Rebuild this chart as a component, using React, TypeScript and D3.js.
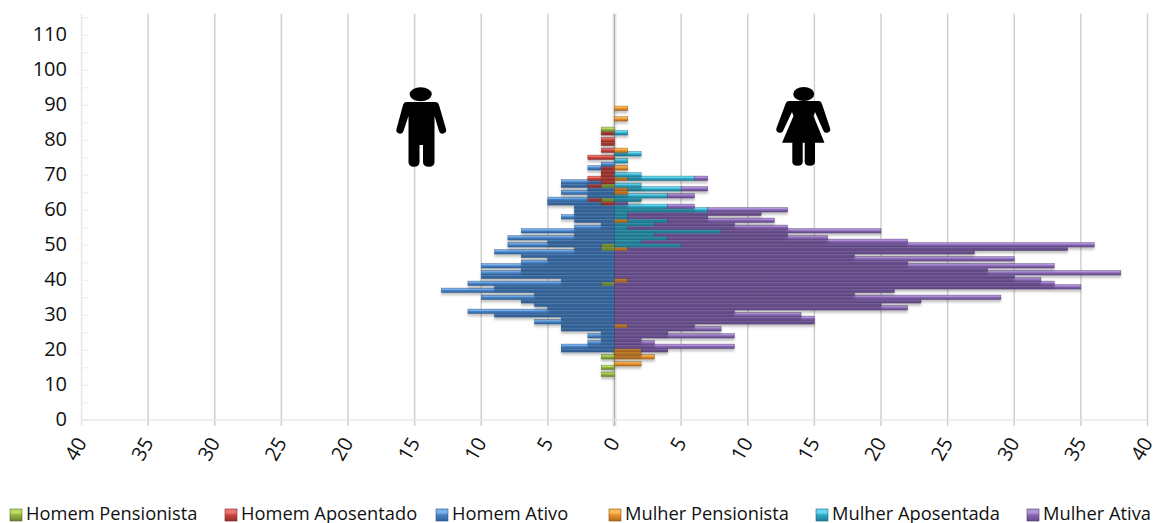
import React, { useRef, useEffect } from "react";
import * as d3 from "d3";

// idade de cada linha do grafico (13 a 89)
const ages = d3.range(13, 90);

// cada array tem uma posicao por idade: 13-19, depois de dez em dez
const homemPensionista = [
  1, 0, 1, 0, 0, 1, 0,
  0, 0, 0, 0, 0, 0, 0, 0, 0, 0,
  0, 0, 0, 0, 0, 0, 0, 0, 0, 1,
  0, 0, 0, 0, 0, 0, 0, 0, 0, 1,
  1, 0, 0, 0, 0, 0, 0, 0, 0, 0,
  0, 0, 0, 1, 0, 0, 0, 1, 0, 0,
  0, 0, 0, 0, 0, 0, 0, 0, 0, 0,
  0, 0, 0, 1, 0, 0, 0, 0, 0, 0,
];
const homemAposentado = [
  0, 0, 0, 0, 0, 0, 0,
  0, 0, 0, 0, 0, 0, 0, 0, 0, 0,
  0, 0, 0, 0, 0, 0, 0, 0, 0, 0,
  0, 0, 0, 0, 0, 0, 0, 0, 0, 0,
  0, 0, 0, 0, 0, 0, 0, 0, 0, 0,
  0, 0, 1, 1, 0, 0, 0, 1, 1, 2,
  1, 1, 1, 0, 0, 2, 0, 1, 0, 1,
  1, 0, 1, 0, 0, 0, 0, 0, 0, 0,
];
const homemAtivo = [
  0, 0, 0, 0, 0, 0, 0,
  4, 4, 2, 1, 2, 1, 4, 4, 6, 4,
  9, 11, 5, 6, 7, 10, 6, 13, 9, 10,
  4, 10, 10, 7, 10, 7, 5, 7, 9, 2,
  7, 5, 8, 3, 7, 3, 1, 3, 4, 3,
  3, 3, 4, 3, 2, 4, 2, 2, 3, 0,
  0, 0, 1, 1, 0, 0, 0, 0, 0, 0,
  0, 0, 0, 0, 0, 0, 0, 0, 0, 0,
];
const mulherPensionista = [
  0, 0, 0, 2, 0, 3, 2,
  2, 0, 0, 0, 0, 0, 0, 1, 0, 0,
  0, 0, 0, 0, 0, 0, 0, 0, 0, 0,
  1, 0, 0, 0, 0, 0, 0, 0, 0, 1,
  0, 0, 0, 0, 0, 0, 0, 1, 0, 0,
  0, 0, 0, 0, 0, 1, 1, 0, 0, 1,
  0, 0, 1, 0, 0, 0, 0, 1, 0, 0,
  0, 0, 0, 0, 0, 0, 1, 0, 0, 1,
];
const mulherAposentada = [
  0, 0, 0, 0, 0, 0, 0,
  0, 0, 0, 0, 0, 0, 0, 0, 0, 0,
  0, 0, 0, 0, 0, 0, 0, 0, 0, 0,
  0, 0, 0, 0, 0, 0, 0, 0, 0, 0,
  5, 2, 4, 3, 8, 1, 3, 3, 1, 1,
  7, 4, 0, 2, 4, 0, 4, 2, 0, 5,
  2, 0, 0, 0, 1, 0, 2, 0, 0, 0,
  0, 0, 1, 0, 0, 0, 0, 0, 0, 0,
];
const mulherAtiva = [
  0, 0, 0, 0, 0, 0, 0,
  2, 9, 3, 2, 9, 4, 8, 5, 15, 15,
  14, 9, 22, 20, 23, 29, 18, 21, 35, 33,
  31, 30, 38, 28, 33, 22, 30, 18, 27, 33,
  31, 20, 12, 10, 12, 12, 6, 8, 6, 10,
  6, 2, 1, 0, 2, 0, 2, 0, 0, 1,
  0, 0, 0, 0, 0, 0, 0, 0, 0, 0,
  0, 0, 0, 0, 0, 0, 0, 0, 0, 0,
];

const xTicks = [-40, -35, -30, -25, -20, -15, -10, -5, 0, 5, 10, 15, 20, 25, 30, 35, 40];
const yTickLabels = [0, 10, 20, 30, 40, 50, 60, 70, 80, 90, 100, 110];
const yMinorTicks = d3.range(0, 120, 5);

// cores: claro, medio, escuro, borda
const legendNames = ["Homem Pensionista", "Homem Aposentado", "Homem Ativo", "Mulher Pensionista", "Mulher Aposentada", "Mulher Ativa"];
const legendX = [10, 225, 436, 609, 816, 1027];
const shades = [
  ["#bcdc62", "#93b444", "#6a8630", "#556c26"],
  ["#ee7470", "#c9453f", "#93302c", "#7a2624"],
  ["#7cb2ea", "#4682c4", "#32639e", "#28507f"],
  ["#fcb955", "#e8922f", "#b06a20", "#8a5018"],
  ["#68d8f0", "#2fa9c9", "#207d96", "#186478"],
  ["#b094d8", "#8866b4", "#644a8c", "#4e3a6e"],
];

const FONT = "'Open Sans', sans-serif";

export default function App() {
  const chartRef = useRef<SVGSVGElement>(null);

  useEffect(() => {
    const width = 1153;
    const height = 523;

    const x = d3.scaleLinear().domain([-40, 40]).range([81.5, 1147.5]);
    const y = d3.scaleLinear().domain([0, 116]).range([419.8, 13.8]);
    const barH = (y(0) - y(1)) * 1.28;

    const svg = d3.select(chartRef.current).html("");
    svg.attr("width", width).attr("height", height);

    const defs = svg.append("defs");
    shades.forEach((s, i) => {
      const g = defs.append("linearGradient").attr("id", `bar${i}`).attr("x1", 0).attr("x2", 0).attr("y1", 0).attr("y2", 1);
      g.append("stop").attr("offset", "0%").attr("stop-color", s[0]);
      g.append("stop").attr("offset", "30%").attr("stop-color", s[0]);
      g.append("stop").attr("offset", "50%").attr("stop-color", s[1]);
      g.append("stop").attr("offset", "100%").attr("stop-color", s[2]);
    });
    const filter = defs.append("filter").attr("id", "shadow").attr("x", "-10%").attr("y", "-60%").attr("width", "120%").attr("height", "320%");
    filter.append("feDropShadow").attr("dx", 0).attr("dy", 2.5).attr("stdDeviation", 1.3).attr("flood-color", "#000").attr("flood-opacity", 0.24);

    // linhas de grade
    svg.append("g")
      .selectAll("line")
      .data(xTicks)
      .enter()
      .append("line")
      .attr("x1", (d) => x(d))
      .attr("x2", (d) => x(d))
      .attr("y1", y(116))
      .attr("y2", 426)
      .attr("stroke", (d) => (d === -40 ? "#e8e8e8" : "#cfcfcf"))
      .attr("stroke-width", 1.5);
    svg.append("line")
      .attr("x1", x(0)).attr("x2", x(0))
      .attr("y1", y(116)).attr("y2", 426)
      .attr("stroke", "#e2e2e2").attr("stroke-width", 4);
    svg.append("line")
      .attr("x1", x(0)).attr("x2", x(0))
      .attr("y1", y(116)).attr("y2", 426)
      .attr("stroke", "#b0b0b0").attr("stroke-width", 1);

    // eixo y
    const yAxis = svg.append("g")
      .attr("transform", `translate(${x(-40)},0)`)
      .call(d3.axisRight(y).tickValues(yMinorTicks.filter((d) => d <= 115)).tickSize(7).tickFormat(() => ""));
    yAxis.select(".domain").remove();
    yAxis.selectAll("line").attr("stroke", "#ececec").attr("stroke-width", 1);
    svg.append("line")
      .attr("x1", x(-40)).attr("x2", x(40))
      .attr("y1", y(0)).attr("y2", y(0))
      .attr("stroke", "#e4e4e4").attr("stroke-width", 1.2);

    svg.append("g")
      .selectAll("text")
      .data(yTickLabels)
      .enter()
      .append("text")
      .attr("x", 67)
      .attr("y", (d) => y(d) - 0.5)
      .attr("dy", "0.35em")
      .attr("text-anchor", "end")
      .attr("font-family", FONT)
      .attr("font-size", 20)
      .attr("fill", "#111")
      .text((d) => d);

    // rotulos do eixo x
    svg.append("g")
      .selectAll("text")
      .data(xTicks)
      .enter()
      .append("text")
      .attr("transform", (d) => `translate(${x(d)},439) rotate(-60)`)
      .attr("dy", "0.35em")
      .attr("text-anchor", "end")
      .attr("font-family", FONT)
      .attr("font-size", 20)
      .attr("fill", "#111")
      .text((d) => Math.abs(d));

    // pilhas: homens para a esquerda, mulheres para a direita
    const rows = ages.map((age, i) => ({
      age,
      hp: homemPensionista[i],
      ha: homemAposentado[i],
      hat: homemAtivo[i],
      mp: mulherPensionista[i],
      ma: mulherAposentada[i],
      mat: mulherAtiva[i],
    }));
    const men = d3.stack().keys(["hp", "ha", "hat"])(rows as any);
    const women = d3.stack().keys(["mp", "ma", "mat"])(rows as any);

    const bars = svg.append("g");
    ages.forEach((age, i) => {
      const row = bars.append("g").attr("filter", "url(#shadow)");
      const segs = [
        ...men.map((s, k) => ({ k, x0: x(-s[i][1]), x1: x(-s[i][0]) })),
        ...women.map((s, k) => ({ k: k + 3, x0: x(s[i][0]), x1: x(s[i][1]) })),
      ].filter((d) => d.x1 > d.x0);
      row.selectAll("rect")
        .data(segs)
        .enter()
        .append("rect")
        .attr("x", (d) => d.x0)
        .attr("width", (d) => d.x1 - d.x0)
        .attr("y", y(age) - barH / 2)
        .attr("height", barH)
        .attr("fill", (d) => `url(#bar${d.k})`)
        .attr("stroke", (d) => shades[d.k][3])
        .attr("stroke-width", 0.4);
    });

    // legenda
    const legend = svg.append("g")
      .selectAll("g")
      .data(legendNames)
      .enter()
      .append("g")
      .attr("transform", (d, i) => `translate(${legendX[i]},509)`);
    legend.append("rect")
      .attr("width", 12)
      .attr("height", 12)
      .attr("fill", (d, i) => `url(#bar${i})`)
      .attr("stroke", (d, i) => shades[i][3])
      .attr("stroke-width", 0.6);
    legend.append("text")
      .attr("x", 16)
      .attr("y", 5)
      .attr("dy", "0.35em")
      .attr("font-family", FONT)
      .attr("font-size", 18.3)
      .attr("fill", "#111")
      .text((d) => d);

    // bonecos
    const icons = svg.append("g").attr("fill", "#000");
    icons.append("ellipse").attr("cx", 420.7).attr("cy", 94.3).attr("rx", 11).attr("ry", 7);
    icons.append("path").attr("d", "M406 102H436Q438 102 439 105L446 129A3.6 3.6 0 0 1 439 131L434.5 116V162Q434.5 166.7 429 166.7Q423 166.7 423 162V145H419.5V162Q419.5 166.7 414 166.7Q408.5 166.7 408.5 162V116L403.5 131A3.6 3.6 0 0 1 396.500 129L403 105Q404 102 406 102Z");
    icons.append("ellipse").attr("cx", 803.7).attr("cy", 94).attr("rx", 10.500).attr("ry", 7);
    icons.append("path").attr("d", "M789 101H818.500Q821 101 822 104L830 128A3.600 3.600 0 0 1 823.500 131L815 112L813.500 116L824.500 142.700H815V162Q815 165.700 809.800 165.700Q804.700 165.700 804.700 162V142.700H802.700V162Q802.700 165.700 797.500 165.700Q792.300 165.700 792.300 162V142.700H782L793.500 116L792 112L783 131A3.600 3.600 0 0 1 776.500 128L785.500 104Q786.500 101 789 101Z");
  }, []);

  return (
    <div style={{ position: "absolute", left: 0, top: 0 }}>
      <svg ref={chartRef} style={{ display: "block" }} />
    </div>
  );
}
